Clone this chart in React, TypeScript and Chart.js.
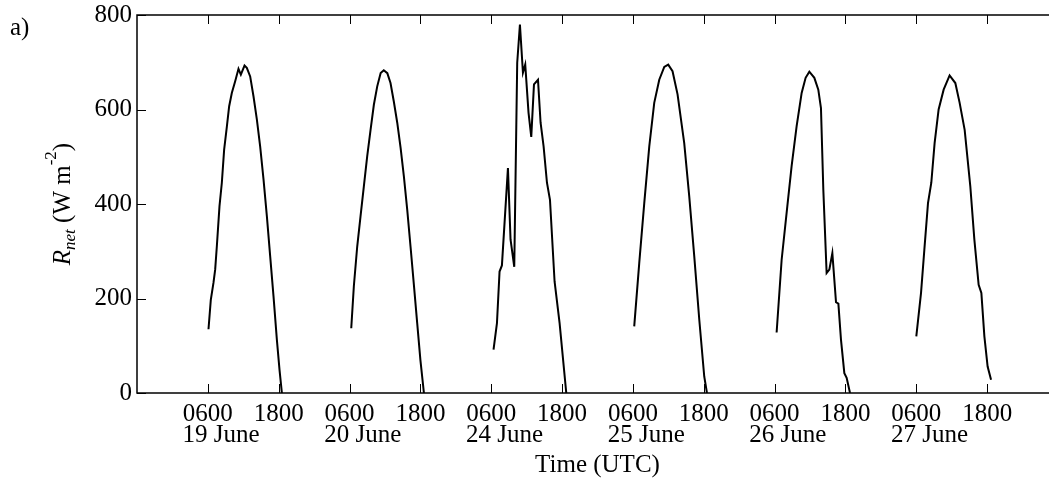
import React, { useEffect, useRef } from 'react';
import { Chart, registerables } from 'chart.js';

Chart.register(...registerables);

// ---- data ----
const dayLabels = ['19 June', '20 June', '24 June', '25 June', '26 June', '27 June'];
const tickHours = [6, 18];
const tickLabels = ['0600', '1800'];
const yTickValues = [0, 200, 400, 600, 800];

const june19Hour = [6.11, 6.5, 6.95, 7.24, 7.52, 7.97, 8.37, 8.76, 9.22, 9.61, 10.06, 10.63, 11.19, 11.59, 12.21, 12.6, 13.17, 13.73, 14.3, 14.86, 15.43, 16.0, 16.56, 17.12, 17.69, 18.14, 18.54];
const june19Rnet = [135, 197, 233, 261, 310, 395, 445, 515, 564, 607, 635, 660, 686, 674, 693, 688, 670, 628, 579, 522, 452, 374, 289, 205, 113, 49, 0];

const june20Hour = [6.29, 6.73, 7.3, 7.86, 8.42, 8.99, 9.56, 10.12, 10.69, 11.27, 11.8, 12.4, 12.94, 13.5, 14.08, 14.65, 15.2, 15.77, 16.33, 16.9, 17.46, 18.0, 18.6];
const june20Rnet = [137, 226, 310, 374, 437, 501, 557, 610, 649, 677, 683, 677, 656, 617, 572, 519, 459, 388, 310, 229, 148, 70, 0];

const june24Hour = [6.39, 6.97, 7.41, 7.81, 8.83, 9.27, 9.9, 10.4, 10.86, 11.37, 11.76, 12.32, 12.78, 13.24, 13.92, 14.36, 14.87, 15.44, 15.95, 16.73, 17.58, 18.71];
const june24Rnet = [92, 148, 257, 270, 476, 325, 267, 699, 780, 678, 695, 593, 542, 653, 663, 572, 522, 445, 409, 236, 148, 0];

const june25Hour = [6.22, 7.07, 7.92, 8.77, 9.61, 10.46, 11.31, 11.98, 12.71, 13.56, 14.69, 15.54, 16.39, 17.24, 18.08, 18.54];
const june25Rnet = [141, 275, 402, 522, 614, 663, 690, 695, 681, 632, 529, 416, 289, 155, 35, 0];

const june26Hour = [6.34, 7.19, 8.15, 8.88, 9.73, 10.58, 11.25, 11.88, 12.73, 13.4, 13.85, 14.25, 14.81, 15.27, 15.78, 16.4, 16.8, 17.24, 17.81, 18.2, 18.77];
const june26Rnet = [128, 282, 395, 480, 565, 635, 667, 680, 667, 642, 603, 430, 254, 261, 296, 192, 189, 113, 42, 32, 0];

const june27Hour = [6.0, 6.8, 7.36, 7.98, 8.54, 9.1, 9.78, 10.63, 11.64, 12.61, 13.34, 14.19, 15.15, 15.83, 16.56, 17.02, 17.53, 18.08, 18.66];
const june27Rnet = [120, 212, 303, 402, 445, 529, 600, 642, 672, 656, 614, 557, 437, 325, 229, 212, 120, 56, 28];

const dayHours = [june19Hour, june20Hour, june24Hour, june25Hour, june26Hour, june27Hour];
const dayRnet = [june19Rnet, june20Rnet, june24Rnet, june25Rnet, june26Rnet, june27Rnet];

const FONT = '"Liberation Serif", "Times New Roman", serif';
const HOURS_PER_SLOT = 24;
const DATE_LABEL_SHIFT = 2.25;

const decorPlugin = {
  id: 'decor',
  afterDraw(chart: any) {
    const { ctx, chartArea: a, scales } = chart;
    const x = scales.x;
    const y = scales.y;
    ctx.save();
    ctx.strokeStyle = '#000';
    ctx.lineWidth = 1;
    const L = 9;
    const seg = (x1: number, y1: number, x2: number, y2: number) => {
      ctx.beginPath();
      ctx.moveTo(x1, y1);
      ctx.lineTo(x2, y2);
      ctx.stroke();
    };
    x.ticks.forEach((t: any) => {
      const px = Math.round(x.getPixelForValue(t.value)) + 0.5;
      seg(px, a.bottom, px, a.bottom - L);
      seg(px, a.top, px, a.top + L);
    });
    y.ticks.forEach((t: any) => {
      const py = Math.round(y.getPixelForValue(t.value)) + 0.5;
      seg(a.left, py, a.left + L, py);
      seg(a.right, py, a.right - L, py);
    });
    ctx.lineWidth = 1.5;
    ctx.strokeRect(a.left, a.top, a.right - a.left, a.bottom - a.top);

    ctx.fillStyle = '#000';
    ctx.font = `25px ${FONT}`;
    ctx.textAlign = 'center';
    ctx.textBaseline = 'alphabetic';
    dayLabels.forEach((lab, i) => {
      ctx.fillText(lab, x.getPixelForValue(HOURS_PER_SLOT * i + 6 + DATE_LABEL_SHIFT), 442);
    });

    ctx.textAlign = 'left';
    ctx.fillText('a)', 10, 35);

    // y-axis title with subscript / superscript
    ctx.save();
    ctx.translate(70, (a.top + a.bottom) / 2);
    ctx.rotate(-Math.PI / 2);
    const parts = [
      { t: 'R', f: `italic 25px ${FONT}`, dy: 0 },
      { t: 'net', f: `italic 17px ${FONT}`, dy: 5 },
      { t: ' (W m', f: `25px ${FONT}`, dy: 0 },
      { t: '-2', f: `17px ${FONT}`, dy: -14 },
      { t: ')', f: `25px ${FONT}`, dy: 0 },
    ];
    let total = 0;
    const widths = parts.map((p) => {
      ctx.font = p.f;
      const w = ctx.measureText(p.t).width;
      total += w;
      return w;
    });
    let cx = -total / 2;
    parts.forEach((p, i) => {
      ctx.font = p.f;
      ctx.fillText(p.t, cx, p.dy);
      cx += widths[i];
    });
    ctx.restore();
    ctx.restore();
  },
};

export default function App() {
  const ref = useRef<HTMLCanvasElement | null>(null);
  useEffect(() => {
    if (!ref.current) return;
    const xTicks: number[] = [];
    dayLabels.forEach((_, i) => tickHours.forEach((h) => xTicks.push(HOURS_PER_SLOT * i + h)));
    const chart = new Chart(ref.current, {
      type: 'line',
      data: {
        datasets: dayHours.map((hours, i) => ({
          label: dayLabels[i],
          data: hours.map((h, j) => ({ x: HOURS_PER_SLOT * i + h, y: dayRnet[i][j] })),
          borderColor: '#000',
          borderWidth: 2,
          pointRadius: 0,
          tension: 0,
          fill: false,
        })),
      },
      options: {
        animation: false,
        responsive: false,
        devicePixelRatio: 1,
        layout: { padding: { top: 15, right: 2, left: 0, bottom: 0 } },
        plugins: { legend: { display: false }, tooltip: { enabled: false } },
        scales: {
          x: {
            type: 'linear',
            min: -6,
            max: 150,
            afterBuildTicks: (s: any) => {
              s.ticks = xTicks.map((v) => ({ value: v }));
            },
            afterFit: (s: any) => {
              s.height = 90;
              s.paddingLeft = 0;
              s.paddingRight = 0;
            },
            ticks: {
              autoSkip: false,
              maxRotation: 0,
              minRotation: 0,
              padding: 6,
              color: '#000',
              font: { family: FONT, size: 25 },
              callback: (v: any) => tickLabels[tickHours.indexOf(((Number(v) % 24) + 24) % 24)],
            },
            grid: { display: false, drawTicks: false },
            border: { display: false },
            title: {
              display: true,
              text: 'Time (UTC)',
              color: '#000',
              font: { family: FONT, size: 25 },
              padding: { top: 0, bottom: 3 },
            },
          },
          y: {
            min: 0,
            max: 800,
            afterBuildTicks: (s: any) => {
              s.ticks = yTickValues.map((v) => ({ value: v }));
            },
            afterFit: (s: any) => {
              s.width = 137;
              s.paddingTop = 0;
              s.paddingBottom = 0;
            },
            ticks: {
              padding: 5,
              color: '#000',
              font: { family: FONT, size: 25 },
            },
            grid: { display: false, drawTicks: false },
            border: { display: false },
          },
        },
      },
      plugins: [decorPlugin],
    } as any);
    return () => chart.destroy();
  }, []);
  return (
    <div style={{ position: 'fixed', left: 0, top: 0, width: 1049, height: 483, overflow: 'hidden', background: '#fff' }}>
      <canvas ref={ref} width={1060} height={483} style={{ width: 1060, height: 483, display: 'block' }} />
    </div>
  );
}
